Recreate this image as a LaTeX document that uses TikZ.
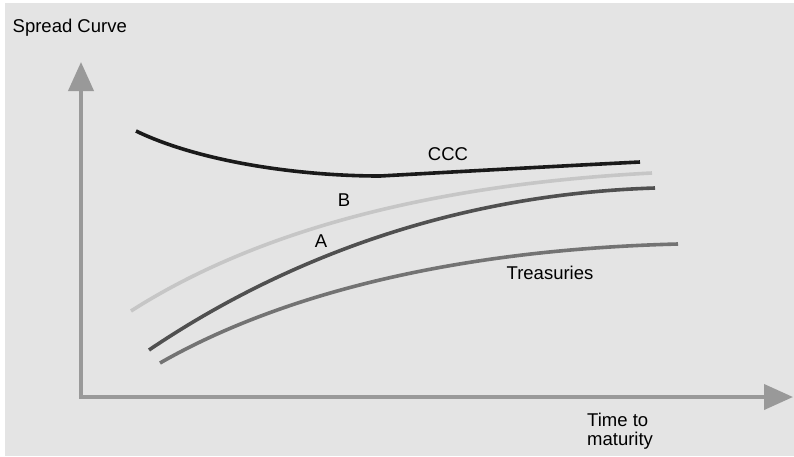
\documentclass[tikz,border=0pt]{standalone}
\usepackage{fontspec}
\setmainfont{Liberation Sans}
\usetikzlibrary{arrows.meta}
\definecolor{bg}{HTML}{E4E4E4}
\definecolor{axisgray}{HTML}{999999}
\definecolor{ccccol}{HTML}{1A1A1A}
\definecolor{bcol}{HTML}{C6C6C6}
\definecolor{acol}{HTML}{505050}
\definecolor{tcol}{HTML}{737373}
\tikzset{
  lbl/.style={inner sep=0pt, font=\fontsize{18.5}{18.5}\selectfont, text=black},
  axis/.style={draw=axisgray, line width=4pt, -{Triangle[length=29pt,width=25pt]}},
  curve/.style={line width=3.6pt, line cap=butt},
}
\begin{document}
\begin{tikzpicture}[x=1pt,y=-1pt]
\useasboundingbox (0,0) rectangle (794,456);
\fill[white] (0,0) rectangle (794,456);
\fill[bg] (5,3) rectangle (794,456);
% labels
\node[lbl, anchor=base west] (title) at (12.5,32) {Spread Curve};
\node[lbl, anchor=base west, align=left] (xlab) at (587,445) {Time to\\maturity};
\node[lbl] (ccclab) at (448,154) {CCC};
\node[lbl] (blab) at (344,200) {B};
\node[lbl] (alab) at (321,241.5) {A};
\node[lbl] (tlab) at (550,273) {Treasuries};
% axes
\coordinate (origin) at (81,397);
\coordinate (ytip) at (81,62);
\coordinate (xtip) at (793,397);
\draw[axis] ([yshift=2pt]origin) -- (ytip);
\draw[axis] ([xshift=-2pt]origin) -- (xtip);
% curves
\draw[curve, draw=bcol] (131,311) .. controls (250,235) and (420,185) .. (652,173);
\draw[curve, draw=acol] (149,350) .. controls (260,275) and (430,195) .. (655,188);
\draw[curve, draw=tcol] (160,363) .. controls (270,300) and (440,250) .. (678,244);
\draw[curve, draw=ccccol] (136,131) .. controls (200,162) and (300,176) .. (380,176);
\draw[curve, draw=ccccol] (380,176) .. controls (470,171) and (560,166) .. (640,162);
\end{tikzpicture}
\end{document}
